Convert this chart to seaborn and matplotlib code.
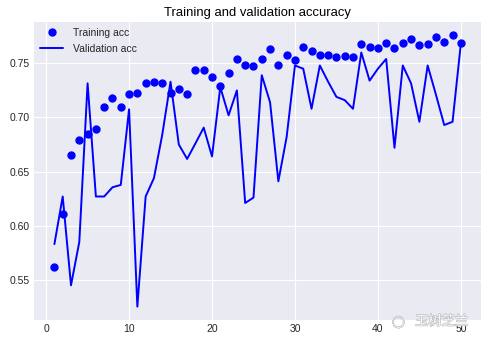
import matplotlib
matplotlib.use("Agg")
import matplotlib.pyplot as plt
import matplotlib.patheffects as pe
import seaborn as sns
import pandas as pd

epochs = list(range(1, 51))
train_acc = [0.5616, 0.611, 0.665, 0.679, 0.685, 0.689, 0.710, 0.718, 0.710, 0.7217,
             0.7223, 0.7315, 0.733, 0.7315, 0.723, 0.726, 0.7217, 0.7435, 0.7435, 0.737,
             0.729, 0.741, 0.7537, 0.7484, 0.7475, 0.7537, 0.763, 0.7484, 0.758, 0.753,
             0.7653, 0.7614, 0.758, 0.758, 0.7555, 0.7567, 0.7555, 0.7675, 0.7648, 0.7638,
             0.769, 0.7638, 0.7685, 0.7724, 0.7666, 0.7675, 0.7743, 0.7694, 0.7759, 0.7685]
val_acc = [0.583, 0.627, 0.545, 0.585, 0.7315, 0.627, 0.627, 0.6355, 0.6377, 0.7075,
           0.5253, 0.627, 0.644, 0.684, 0.733, 0.675, 0.6617, 0.676, 0.6906, 0.664,
           0.728, 0.702, 0.725, 0.621, 0.626, 0.739, 0.714, 0.641, 0.682, 0.748,
           0.745, 0.708, 0.748, 0.733, 0.719, 0.716, 0.708, 0.760, 0.734, 0.745,
           0.754, 0.672, 0.748, 0.7315, 0.696, 0.748, 0.721, 0.693, 0.696, 0.768]
title = "Training and validation accuracy"
labels = ["Training acc", "Validation acc"]

sns.set_style("darkgrid")
plt.rcParams["font.family"] = ["Liberation Sans", "DejaVu Sans"]
plt.rcParams["axes.unicode_minus"] = False

df = pd.DataFrame({"epoch": epochs, "train": train_acc, "val": val_acc})

fig = plt.figure(figsize=(4.87, 3.45), dpi=100)
ax = fig.add_axes([0.070, 0.072, 0.918, 0.865])

ax.plot(df["epoch"], df["train"], "bo", markersize=5.0, label=labels[0])
sns.lineplot(data=df, x="epoch", y="val", color="b", linewidth=1.4, ax=ax, label=labels[1])

ax.set_title(title, fontsize=9.4, color="black", pad=4)
ax.set_xlabel("")
ax.set_ylabel("")
ax.set_xticks([0, 10, 20, 30, 40, 50])
ax.set_yticks([0.55, 0.60, 0.65, 0.70, 0.75])
ax.set_yticklabels(["0.55", "0.60", "0.65", "0.70", "0.75"])
ax.tick_params(labelsize=7.5, colors="#262626", pad=3, length=0)
ax.set_xlim(-1.45, 52.45)
ax.set_ylim(0.5128, 0.7884)
for s in ax.spines.values():
    s.set_visible(False)

leg = ax.legend(loc="upper left", frameon=False, fontsize=7.5, handlelength=2.2,
                handletextpad=0.9, borderaxespad=0.2, labelspacing=0.55)

# watermark
stroke = [pe.withStroke(linewidth=0.9, foreground="#b4b4ba")]
fig.text(0.818, 0.068, "◌", fontsize=11, color="white", alpha=0.95,
         ha="center", va="center", family=["DejaVu Sans"], path_effects=stroke)
fig.text(0.907, 0.068, "玉树芝兰", fontsize=9.5, color="white", alpha=0.95,
         ha="center", va="center", family=["Noto Sans CJK SC", "DejaVu Sans"],
         path_effects=stroke)

fig.savefig("out.png", dpi=100)
